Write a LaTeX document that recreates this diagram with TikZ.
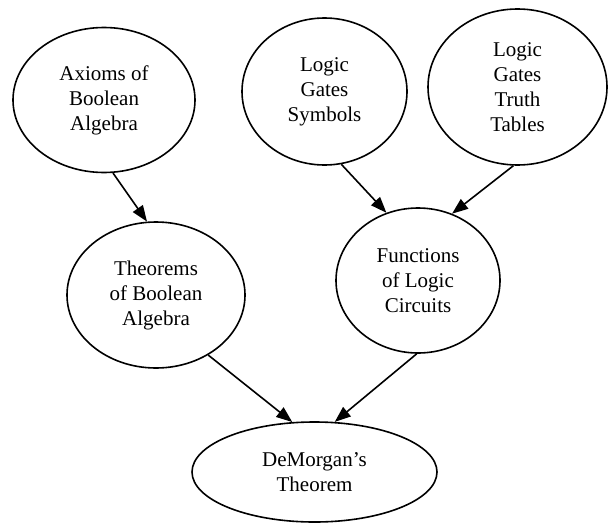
\documentclass[tikz,border=0pt]{standalone}
\usepackage{fontspec}
\setmainfont{Liberation Serif}
\newfontfamily\topicfont{Liberation Serif}
\usetikzlibrary{arrows.meta,shapes.geometric}

\begin{document}
\begin{tikzpicture}[
  x=1pt,y=-1pt,
  >={Triangle[length=16pt,width=12pt]},
  arr/.style={->,draw=black,line width=1.6pt},
  topic/.style={ellipse,draw=black,line width=1.6pt,inner sep=0pt,fill=white,
    align=center,font=\topicfont\fontsize{21}{25}\selectfont}
]
\useasboundingbox (0,0) rectangle (615,522);

% ---------------- top row ----------------
\node[topic,minimum width=182,minimum height=145] (axioms) at (104,100)
  {Axioms of\\Boolean\\Algebra};
\node[topic,minimum width=165,minimum height=147] (symbols) at (324.5,91.5)
  {Logic\\Gates\\Symbols};
\node[topic,minimum width=179,minimum height=156] (tables) at (517.5,87)
  {Logic\\Gates\\Truth\\Tables};

% ---------------- middle row ----------------
\node[topic,minimum width=178,minimum height=146] (theorems) at (156,295)
  {Theorems\\of Boolean\\Algebra};
\node[topic,minimum width=164,minimum height=145] (functions) at (418,280.5)
  {Functions\\of Logic\\Circuits};

% ---------------- bottom ----------------
\node[topic,minimum width=245,minimum height=100] (demorgan) at (314.5,472)
  {DeMorgan’s\\Theorem};

% ---------------- edges ----------------
\draw[arr] (axioms.-83) -- (theorems.97);
\draw[arr] (symbols.-77) -- (functions.115);
\draw[arr] (tables.-93) -- (functions.63);
\draw[arr] (theorems.-49) -- (demorgan.114);
\draw[arr] (functions.-91) -- (demorgan.68);

\end{tikzpicture}
\end{document}
